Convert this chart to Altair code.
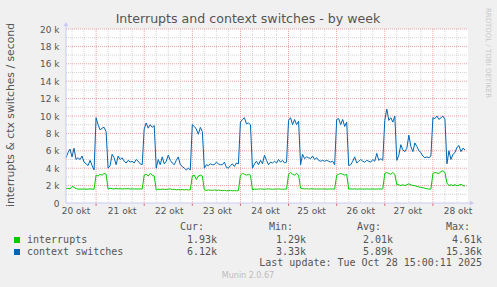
import altair as alt
import pandas as pd

# ---------------- data (values in thousands per second, hourly samples) -------------
hours = list(range(9, 209))  # hours since 20 okt 00:00

ctx_switches = [
    5.2, 5.8, 6.2, 5.3, 6.3, 5.0, 5.2, 5.0, 5.4, 4.7, 4.5, 4.3, 4.9, 4.3, 3.8,
    9.8, 9.0, 8.4, 8.6, 8.7, 8.2,
    4.0, 4.3, 5.6, 5.2, 4.4, 5.4, 5.0, 5.2, 4.8, 4.6, 4.9, 4.7, 4.8, 4.6, 5.0, 4.8, 4.5, 4.4,
    8.5, 9.2, 8.6, 9.0, 8.7, 8.9,
    4.0, 5.0, 4.4, 5.3, 4.5, 4.8, 5.5, 4.9, 4.6, 4.4, 4.9, 5.3, 4.4, 4.2, 4.0, 3.8, 4.0, 3.8,
    9.0, 8.8, 8.5, 7.9, 8.7, 8.2,
    4.0, 4.4, 4.3, 4.5, 4.4, 4.4, 4.7, 4.5, 4.4, 4.4, 4.7, 4.1, 4.0, 4.3, 4.5, 4.2, 4.6, 4.5,
    9.3, 9.6, 9.8, 9.1, 9.2, 9.0,
    4.0, 4.5, 4.8, 4.4, 4.9, 4.5, 5.5, 4.9, 4.4, 4.7, 4.6, 4.8, 4.6, 5.0, 4.7, 4.9, 4.6, 4.7,
    9.5, 9.8, 9.0, 9.6, 9.0, 9.4,
    4.4, 5.6, 5.1, 5.3, 5.2, 5.1, 5.4, 5.0, 5.2, 4.9, 4.8, 4.9, 4.8, 4.9, 4.8, 4.7, 4.8, 4.4,
    9.6, 9.7, 9.0, 9.6, 8.8, 9.3,
    4.3, 4.4, 4.8, 5.3, 4.6, 4.8, 5.0, 4.8, 4.7, 4.9, 4.8, 4.7, 5.0, 4.8, 5.7, 4.9, 5.1, 4.9,
    9.5, 10.8, 9.5, 9.8, 9.3, 10.0,
    4.9, 5.5, 6.7, 6.1, 5.9, 6.3, 7.8, 6.5, 5.9, 6.9, 6.5, 6.0, 5.8, 5.4, 5.2, 5.3, 5.2, 5.4,
    9.8, 9.7, 10.0, 9.6, 9.8, 10.0, 9.6,
    4.5, 6.0, 5.0, 5.6, 5.8, 6.4, 6.6, 5.9, 6.3, 6.1,
]

interrupts = [
    1.65, 1.7, 1.6, 1.9, 1.8, 1.65, 1.6, 1.6, 1.6, 1.62, 1.58, 1.6, 1.62, 1.6, 1.58,
    3.2, 3.1, 3.3, 3.2, 3.4, 3.3,
    1.6, 1.7, 1.65, 1.6, 1.7, 1.62, 1.65, 1.6, 1.65, 1.62, 1.66, 1.6, 1.64, 1.6, 1.62, 1.6, 1.63, 1.6,
    3.2, 3.3, 3.1, 3.4, 3.2, 3.1,
    1.5, 1.6, 1.55, 1.6, 1.58, 1.55, 1.6, 1.62, 1.55, 1.58, 1.5, 1.55, 1.52, 1.55, 1.5, 1.55, 1.5, 1.52,
    3.1, 3.2, 2.7, 3.1, 3.2, 3.1,
    1.5, 1.45, 1.5, 1.48, 1.45, 1.5, 1.45, 1.48, 1.45, 1.42, 1.45, 1.4, 1.42, 1.45, 1.4, 1.42, 1.4, 1.42,
    3.2, 3.4, 3.3, 3.2, 3.3, 3.2,
    1.5, 1.6, 1.58, 1.6, 1.62, 1.6, 1.58, 1.6, 1.62, 1.6, 1.58, 1.6, 1.6, 1.62, 1.6, 1.58, 1.6, 1.6,
    3.3, 3.5, 3.3, 3.2, 3.4, 3.2,
    1.7, 1.65, 1.62, 1.65, 1.6, 1.64, 1.62, 1.6, 1.62, 1.6, 1.62, 1.6, 1.62, 1.6, 1.6, 1.62, 1.6, 1.6,
    3.2, 3.3, 3.4, 3.3, 3.2, 3.3,
    1.6, 1.62, 1.6, 1.62, 1.6, 1.6, 1.62, 1.6, 1.6, 1.62, 1.6, 1.6, 1.62, 1.6, 1.6, 1.62, 1.6, 1.62,
    3.4, 3.5, 3.4, 3.3, 3.5, 3.3,
    2.1, 2.1, 2.0, 2.1, 2.0, 2.1, 2.2, 2.1, 2.0, 2.0, 1.9, 1.85, 1.8, 1.75, 1.7, 1.65, 1.6, 1.6,
    3.4, 3.5, 3.45, 3.4, 3.6, 3.7, 3.5,
    2.3, 2.0, 2.1, 2.0, 2.1, 2.0, 2.05, 2.15, 2.0, 1.95,
]

day_labels = ["20 okt", "21 okt", "22 okt", "23 okt", "24 okt", "25 okt", "26 okt", "27 okt", "28 okt"]
day_label_hours = [14, 37, 60.5, 84.5, 108.5, 131.5, 156, 179.5, 204.5]
day_lines = [24, 48, 72, 96, 120, 144, 168, 192]
minor_x = [h for h in range(12, 209, 6) if h % 24 != 0]
major_y = [2, 4, 6, 8, 10, 12, 14, 16, 18, 20]
minor_y = [1, 3, 5, 7, 9, 11, 13, 15, 17, 19]
y_tick_values = [0, 2, 4, 6, 8, 10, 12, 14, 16, 18, 20]

series_names = ["interrupts", "context switches"]
series_colors = ["#00CC00", "#0066B3"]
cur_vals = ["1.93k", "6.12k"]
min_vals = ["1.29k", "3.33k"]
avg_vals = ["2.01k", "5.89k"]
max_vals = ["4.61k", "15.36k"]

# ---------------- chart -------------------------------------------------------------
W, H = 402, 174
SANS = "DejaVu Sans"
MONO = "DejaVu Sans Mono"
TXT = "#555555"

xs = alt.Scale(domain=[9, 209.5], nice=False, zero=False)
ys = alt.Scale(domain=[0, 20], nice=False, zero=True)

yaxis = alt.Axis(
    values=y_tick_values,
    labelExpr="datum.value == 0 ? '0' : datum.value + ' k'",
    domain=False, ticks=False, grid=False, labelPadding=7,
    labelFontSize=9, labelColor=TXT, labelFont=SANS, title=None,
)

df = pd.DataFrame({"h": hours, "ctx": ctx_switches, "irq": interrupts})


def txt(s, x, y, size=10, align="left", font=MONO, color=TXT, angle=0, baseline="middle"):
    kw = dict(align=align, baseline=baseline, font=font, fontSize=size, color=color)
    if angle:
        kw["angle"] = angle
    return alt.Chart(alt.Data(values=[{"t": s}])).mark_text(**kw).encode(
        x=alt.value(x), y=alt.value(y), text="t:N"
    )


minor_h = alt.Chart(pd.DataFrame({"v": minor_y})).mark_rule(
    color="#D4D4D4", strokeDash=[1, 1], strokeWidth=1
).encode(y=alt.Y("v:Q", scale=ys, axis=yaxis), x=alt.value(0), x2=alt.value(W))

minor_v = alt.Chart(pd.DataFrame({"h": minor_x})).mark_rule(
    color="#D4D4D4", strokeDash=[1, 1], strokeWidth=1
).encode(x=alt.X("h:Q", scale=xs, axis=None), y=alt.value(0), y2=alt.value(H))

major_h = alt.Chart(pd.DataFrame({"v": major_y})).mark_rule(
    color="#EBA0A0", strokeDash=[1, 1], strokeWidth=1
).encode(y=alt.Y("v:Q", scale=ys, axis=yaxis), x=alt.value(0), x2=alt.value(W))

major_v = alt.Chart(pd.DataFrame({"h": day_lines})).mark_rule(
    color="#EBA0A0", strokeDash=[1, 1], strokeWidth=1
).encode(x=alt.X("h:Q", scale=xs, axis=None), y=alt.value(0), y2=alt.value(H))

day_ticks = alt.Chart(pd.DataFrame({"h": day_lines})).mark_rule(
    color="#E07070", strokeWidth=1
).encode(x=alt.X("h:Q", scale=xs, axis=None), y=alt.value(H), y2=alt.value(H + 3))

line_irq = alt.Chart(df).mark_line(color=series_colors[0], strokeWidth=1).encode(
    x=alt.X("h:Q", scale=xs, axis=None),
    y=alt.Y("irq:Q", scale=ys, axis=yaxis),
)
line_ctx = alt.Chart(df).mark_line(color=series_colors[1], strokeWidth=1).encode(
    x=alt.X("h:Q", scale=xs, axis=None),
    y=alt.Y("ctx:Q", scale=ys, axis=yaxis),
)

xlabels = alt.Chart(pd.DataFrame({"h": day_label_hours, "lab": day_labels})).mark_text(
    font=SANS, fontSize=9, color=TXT, baseline="middle", align="center"
).encode(x=alt.X("h:Q", scale=xs, axis=None), y=alt.value(182), text="lab:N")

AX = "#C8C8F4"
left_axis = alt.Chart(alt.Data(values=[{}])).mark_rule(color=AX, strokeWidth=1).encode(
    x=alt.value(0), y=alt.value(-5), y2=alt.value(H)
)
bottom_axis = alt.Chart(alt.Data(values=[{}])).mark_rule(color=AX, strokeWidth=1).encode(
    x=alt.value(0), x2=alt.value(W + 3), y=alt.value(H)
)
up_arrow = alt.Chart(alt.Data(values=[{}])).mark_point(
    shape="triangle-up", filled=True, color=AX, size=22, opacity=1
).encode(x=alt.value(0), y=alt.value(-5))
right_arrow = alt.Chart(alt.Data(values=[{}])).mark_point(
    shape="triangle-right", filled=True, color=AX, size=22, opacity=1
).encode(x=alt.value(W + 4), y=alt.value(H))

texts = [
    txt("Interrupts and context switches - by week", 182, -6, size=12.6, align="center",
        font=SANS, baseline="alphabetic"),
    txt("interrupts & ctx switches / second", -55, 86, size=10.8, align="center",
        font=SANS, angle=270),
    txt("RRDTOOL / TOBI OETIKER", 422, 24, size=7, align="center", font=SANS,
        color="#C8C8C8", angle=90),
    txt("Cur:", 138, 198, align="right"),
    txt("Min:", 227, 198, align="right"),
    txt("Avg:", 315, 198, align="right"),
    txt("Max:", 404, 198, align="right"),
    txt("Last update: Tue Oct 28 15:00:11 2025", 416, 234, align="right"),
    txt("Munin 2.0.67", 182, 247, size=8, align="center", font=SANS, color="#BDBDBD"),
]
row_y = [211, 223]
for i in range(2):
    yy = row_y[i]
    texts.append(
        alt.Chart(alt.Data(values=[{}])).mark_square(
            color=series_colors[i], size=36, opacity=1, filled=True
        ).encode(x=alt.value(-49), y=alt.value(yy))
    )
    texts.append(txt(series_names[i], -39, yy))
    texts.append(txt(cur_vals[i], 151, yy, align="right"))
    texts.append(txt(min_vals[i], 240, yy, align="right"))
    texts.append(txt(avg_vals[i], 327, yy, align="right"))
    texts.append(txt(max_vals[i], 416, yy, align="right"))

chart = alt.layer(
    minor_h, minor_v, major_h, major_v, day_ticks,
    line_irq, line_ctx, xlabels,
    left_axis, bottom_axis, up_arrow, right_arrow,
    *texts,
).properties(
    width=W, height=H,
    autosize=alt.AutoSizeParams(type="none"),
    padding={"left": 66, "top": 29, "right": 29, "bottom": 84},
    background="#F0F0F0",
).configure_view(fill="white", stroke=None)

chart.save("out.html", embed_options={"renderer": "svg", "actions": False})
